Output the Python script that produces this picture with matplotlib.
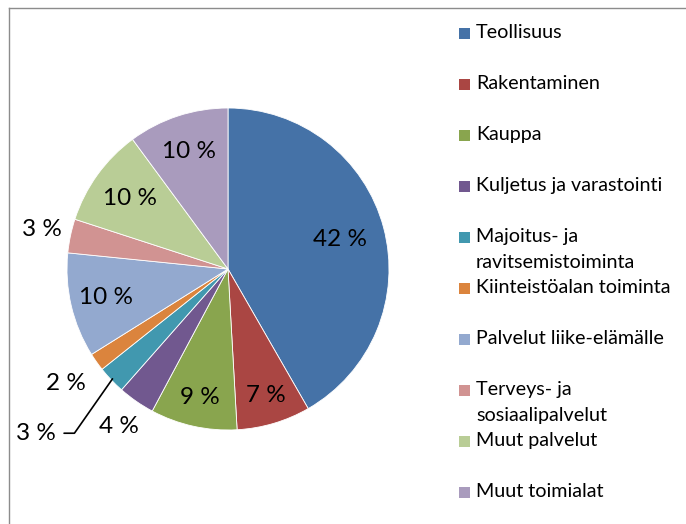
import matplotlib
matplotlib.use("Agg")
import matplotlib.pyplot as plt
from matplotlib.lines import Line2D
from matplotlib.patches import Rectangle
import numpy as np

plt.rcParams['font.family'] = ['Lato', 'DejaVu Sans']

# data (share of firms, %)
categories = ['Teollisuus', 'Rakentaminen', 'Kauppa', 'Kuljetus ja varastointi',
              'Majoitus- ja\nravitsemistoiminta', 'Kiinteistöalan toiminta',
              'Palvelut liike-elämälle', 'Terveys- ja\nsosiaalipalvelut',
              'Muut palvelut', 'Muut toimialat']
shares = [41.7, 7.4, 8.7, 3.7, 2.8, 1.8, 10.5, 3.4, 9.9, 10.1]
pct_labels = ['42 %', '7 %', '9 %', '4 %', '3 %', '2 %', '10 %', '3 %', '10 %', '10 %']
colors = ['#4572A7', '#AA4643', '#89A54E', '#71588F', '#4198AF',
          '#DB843D', '#93A9CF', '#D19392', '#B9CD96', '#A99BBD']

# how far from the centre each label sits (1 = pie edge)
label_r = [0.72, 0.82, 0.82, 1.19, None, 1.23, 0.78, 1.18, 0.75, 0.77]

W, H = 686, 524
fig = plt.figure(figsize=(W / 100, H / 100), dpi=100)

# pie: centre (228, 269) px from top-left, radius 161 px
R = 161.0
L = 1.4
side = 2 * L * R
cx, cy = 228.0, H - 269.0
ax = fig.add_axes([(cx - side / 2) / W, (cy - side / 2) / H, side / W, side / H])

wedges, _ = ax.pie(shares, colors=colors, startangle=90, counterclock=False,
                   wedgeprops=dict(edgecolor='white', linewidth=0.6))
ax.set_xlim(-L, L)
ax.set_ylim(-L, L)
ax.set_aspect('equal')
ax.axis('off')

lab_fs = 17.5
for i, w in enumerate(wedges):
    mid = np.deg2rad((w.theta1 + w.theta2) / 2)
    x, y = np.cos(mid), np.sin(mid)
    if label_r[i] is None:
        # small slice with leader line
        ax.annotate(pct_labels[i], xy=(x * 0.99, y * 0.99), xytext=(-1.07, -1.02),
                    ha='right', va='center', fontsize=lab_fs,
                    arrowprops=dict(arrowstyle='-', color='black', lw=1.2,
                                    shrinkA=4, shrinkB=0,
                                    connectionstyle='angle,angleA=0,angleB=55,rad=0'))
    else:
        ax.text(x * label_r[i], y * label_r[i], pct_labels[i],
                ha='center', va='center', fontsize=lab_fs)

# legend drawn by hand so two-line labels hang from the marker
leg_fs = 14.2
top = 33.0
step = 51.0
for i, (name, c) in enumerate(zip(categories, colors)):
    yc = top + i * step
    fig.add_artist(Rectangle((459 / W, 1 - (yc + 6) / H), 11 / W, 11 / H,
                             transform=fig.transFigure, facecolor=c, edgecolor='none'))
    fig.text(476 / W, 1 - (yc - 9) / H, name, ha='left', va='top',
             fontsize=leg_fs, linespacing=1.65)

# chart area border (extends beyond the crop on right and bottom)
fig.add_artist(Line2D([8.5 / W, 8.5 / W], [0, 1 - 7.5 / H], color='#8C8C8C', lw=1.0))
fig.add_artist(Line2D([8.5 / W, 1], [1 - 7.5 / H, 1 - 7.5 / H], color='#8C8C8C', lw=1.0))

fig.savefig('out.png', dpi=100)
